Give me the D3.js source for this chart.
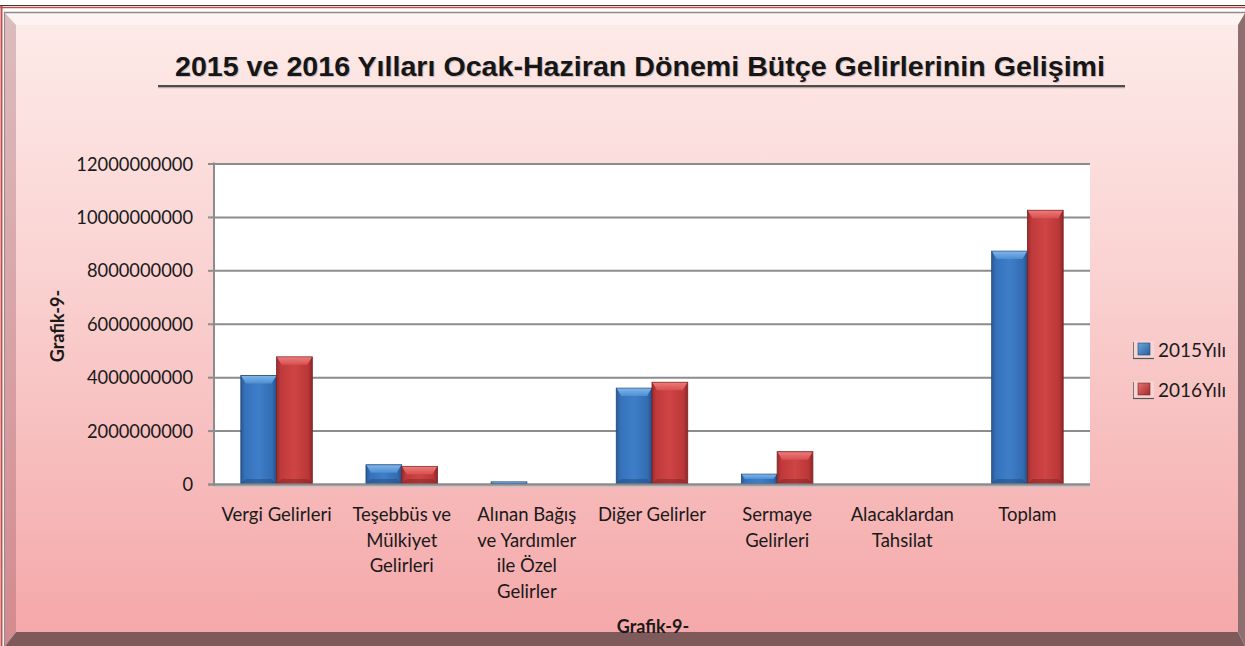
<!DOCTYPE html>
<html><head><meta charset="utf-8">
<script src="https://cdn.jsdelivr.net/npm/d3@7"></script>
<style>html,body{margin:0;padding:0;background:#fff;}svg{display:block;}</style>
</head><body>
<svg id="chart" width="1245" height="646"></svg>
<script>
// ---- data ----
const categories = [
  "Vergi Gelirleri",
  "Teşebbüs ve\nMülkiyet\nGelirleri",
  "Alınan Bağış\nve Yardımler\nile Özel\nGelirler",
  "Diğer Gelirler",
  "Sermaye\nGelirleri",
  "Alacaklardan\nTahsilat",
  "Toplam"
];
const seriesNames = ["2015Yılı", "2016Yılı"];
const values2015 = [4060000000, 720000000, 80000000, 3590000000, 370000000, 5000000, 8720000000];
const values2016 = [4760000000, 660000000, 10000000, 3810000000, 1210000000, 5000000, 10250000000];
const yTicks = [0, 2000000000, 4000000000, 6000000000, 8000000000, 10000000000, 12000000000];
const titleText = "2015 ve 2016 Yılları Ocak-Haziran Dönemi Bütçe Gelirlerinin Gelişimi";
const axisTitle = "Grafik-9-";

const W = 1245, H = 646;
const svg = d3.select("#chart");
const defs = svg.append("defs");

// gradients
function lin(id, x1, y1, x2, y2, stops) {
  const g = defs.append("linearGradient").attr("id", id)
    .attr("x1", x1).attr("y1", y1).attr("x2", x2).attr("y2", y2);
  stops.forEach(s => g.append("stop").attr("offset", s[0]).attr("stop-color", s[1]));
}
lin("bgFace", 0, 0, 0, 1, [[0, "#fdeae8"], [0.35, "#fad6d5"], [1, "#f5a8a9"]]);
lin("bevL", 0, 0, 0, 1, [[0, "#dcbcbe"], [1, "#d38a8e"]]);
lin("blueBody", 0, 0, 1, 0, [[0, "#295a96"], [0.12, "#3672bb"], [0.5, "#3e7ec8"], [0.88, "#336cb2"], [1, "#244f86"]]);
lin("redBody", 0, 0, 1, 0, [[0, "#9c2b2d"], [0.12, "#c03a3b"], [0.5, "#cf4445"], [0.88, "#bb3738"], [1, "#8e2628"]]);
lin("blueTop", 0, 0, 0, 1, [[0, "#7db5e8"], [1, "#4d8dd2"]]);
lin("redTop", 0, 0, 0, 1, [[0, "#ec7a78"], [1, "#d85051"]]);
lin("blueLeg", 0, 0, 1, 1, [[0, "#6aa6e0"], [1, "#2a5e9c"]]);
lin("redLeg", 0, 0, 1, 1, [[0, "#e87270"], [1, "#9e2c2e"]]);

// ---- frame ----
svg.append("rect").attr("x", 0).attr("y", 0).attr("width", W).attr("height", H).attr("fill", "#ffffff");
svg.append("rect").attr("x", 16).attr("y", 25).attr("width", 1222).attr("height", 607).attr("fill", "url(#bgFace)");
svg.append("polygon").attr("points", "5,13 1245,13 1238,25 16,25").attr("fill", "#fdf4f2");
svg.append("polygon").attr("points", "5,13 16,25 16,632 5,646").attr("fill", "url(#bevL)");
svg.append("polygon").attr("points", "1245,13 1245,646 1238,632 1238,25").attr("fill", "#8f6e70");
svg.append("polygon").attr("points", "5,646 16,632 1238,632 1245,646").attr("fill", "#7e5a5b");
svg.append("line").attr("x1", 0).attr("x2", W).attr("y1", 5.5).attr("y2", 5.5).attr("stroke", "#3a3a3a").attr("stroke-width", 1.2);
svg.append("line").attr("x1", 0).attr("x2", W).attr("y1", 7.5).attr("y2", 7.5).attr("stroke", "#c0504d").attr("stroke-width", 1.6);
svg.append("line").attr("x1", 1.5).attr("x2", 1.5).attr("y1", 6).attr("y2", H).attr("stroke", "#c0504d").attr("stroke-width", 2);
svg.append("line").attr("x1", 4).attr("x2", W).attr("y1", 12.5).attr("y2", 12.5).attr("stroke", "#8a8a8a").attr("stroke-width", 1.5);
svg.append("line").attr("x1", 4.5).attr("x2", 4.5).attr("y1", 12).attr("y2", H).attr("stroke", "#9a8a8b").attr("stroke-width", 1.2);

// ---- title ----
const tg = svg.append("g");
tg.append("text").attr("x", 641).attr("y", 77).attr("text-anchor", "middle")
  .attr("font-family", "'Liberation Sans', Arial, sans-serif").attr("font-weight", "bold")
  .attr("font-size", 27).attr("fill", "#9a8c8c").attr("opacity", 0.45)
  .attr("textLength", 930).attr("lengthAdjust", "spacingAndGlyphs").text(titleText);
tg.append("text").attr("x", 640).attr("y", 76).attr("text-anchor", "middle")
  .attr("font-family", "'Liberation Sans', Arial, sans-serif").attr("font-weight", "bold")
  .attr("font-size", 27).attr("fill", "#161616")
  .attr("textLength", 930).attr("lengthAdjust", "spacingAndGlyphs").text(titleText);
svg.append("line").attr("x1", 158).attr("x2", 1125).attr("y1", 87.5).attr("y2", 87.5).attr("stroke", "#b9a9a9").attr("stroke-width", 1.5);
svg.append("line").attr("x1", 158).attr("x2", 1125).attr("y1", 86).attr("y2", 86).attr("stroke", "#1a1a1a").attr("stroke-width", 1.5);

// ---- plot ----
const pl = 214, pr = 1090, pt = 163.5, pb = 484;
const y = d3.scaleLinear().domain([0, 12000000000]).range([pb, pt]);
const x0 = d3.scaleBand().domain(categories).range([pl, pr]).paddingInner(0).paddingOuter(0);
const x1 = d3.scaleBand().domain(seriesNames).range([0, x0.bandwidth()]).paddingInner(0).paddingOuter(0.75);

svg.append("rect").attr("x", pl).attr("y", pt).attr("width", pr - pl).attr("height", pb - pt).attr("fill", "#ffffff");

// grid + axis via d3.axisLeft
const yAxis = d3.axisLeft(y).tickValues(yTicks).tickSize(-(pr - pl)).tickPadding(0).tickFormat(d => d3.format("d")(d));
const ga = svg.append("g").attr("transform", `translate(${pl},0)`).call(yAxis);
ga.select(".domain").remove();
ga.selectAll(".tick line").attr("stroke", "#8c8c8c").attr("stroke-width", 2);
ga.selectAll(".tick").append("line").attr("x1", -6).attr("x2", 0).attr("stroke", "#8c8c8c").attr("stroke-width", 2);
ga.selectAll(".tick text").attr("x", -21).attr("dy", "0.36em")
  .attr("font-family", "Lato, 'Noto Sans', sans-serif").attr("font-size", 18.3).attr("fill", "#1a1a1a");
svg.append("line").attr("x1", pl).attr("x2", pl).attr("y1", pt - 1).attr("y2", pb + 2).attr("stroke", "#8c8c8c").attr("stroke-width", 2);
svg.append("line").attr("x1", pl).attr("x2", pr).attr("y1", pb + 2.5).attr("y2", pb + 2.5).attr("stroke", "#c9c2c2").attr("stroke-width", 1.5);

// bars
const seriesData = [values2015, values2016];
const bodyFill = ["url(#blueBody)", "url(#redBody)"];
const topFill = ["url(#blueTop)", "url(#redTop)"];
const edge = ["#1f4676", "#7a2224"];
const rows = [];
categories.forEach((c, i) => seriesNames.forEach((s, j) => rows.push({c, s, j, v: seriesData[j][i]})));
const bars = svg.append("g").selectAll("g").data(rows).join("g");
bars.each(function(d) {
  const g = d3.select(this);
  const bx = x0(d.c) + x1(d.s), bw = x1.bandwidth();
  const by = y(d.v), bh = pb - by;
  if (bh < 0.5) return;
  g.append("rect").attr("x", bx).attr("y", by).attr("width", bw).attr("height", bh)
    .attr("fill", bodyFill[d.j]).attr("stroke", edge[d.j]).attr("stroke-width", 0.8);
  const th = Math.min(8, bh / 2), ins = Math.min(5, th * 0.7);
  g.append("polygon")
    .attr("points", `${bx + 0.5},${by + 0.5} ${bx + bw - 0.5},${by + 0.5} ${bx + bw - ins},${by + th} ${bx + ins},${by + th}`)
    .attr("fill", topFill[d.j]);
  if (bh > 14) {
    g.append("polygon")
      .attr("points", `${bx + 0.5},${pb - 0.5} ${bx + bw - 0.5},${pb - 0.5} ${bx + bw - ins},${pb - 5} ${bx + ins},${pb - 5}`)
      .attr("fill", edge[d.j]).attr("opacity", 0.45);
  }
});
// bottom axis line on top
svg.append("line").attr("x1", pl - 6).attr("x2", pr).attr("y1", pb + 0.5).attr("y2", pb + 0.5).attr("stroke", "#8c8c8c").attr("stroke-width", 2);

// category labels
const xl = svg.append("g");
categories.forEach(c => {
  const lines = c.split("\n");
  const t = xl.append("text").attr("text-anchor", "middle")
    .attr("font-family", "Lato, 'Noto Sans', sans-serif").attr("font-size", 18.5).attr("fill", "#1a1a1a");
  lines.forEach((ln, k) => t.append("tspan").attr("x", x0(c) + x0.bandwidth() / 2).attr("y", 521 + k * 25.5).text(ln));
});

// axis titles
svg.append("text").attr("transform", "translate(64,326) rotate(-90)").attr("text-anchor", "middle")
  .attr("font-family", "Lato, 'Noto Sans', sans-serif").attr("font-weight", "bold").attr("font-size", 18).attr("fill", "#1a1a1a")
  .text(axisTitle);
svg.append("text").attr("x", 653).attr("y", 633).attr("text-anchor", "middle")
  .attr("font-family", "Lato, 'Noto Sans', sans-serif").attr("font-weight", "bold").attr("font-size", 18).attr("fill", "#1a1a1a")
  .text(axisTitle);

// legend
const legFill = ["url(#blueLeg)", "url(#redLeg)"];
const lg = svg.append("g").selectAll("g").data(seriesNames).join("g")
  .attr("transform", (d, i) => `translate(1133,${342 + i * 40})`);
lg.append("rect").attr("x", 0).attr("y", -1).attr("width", 21).attr("height", 17).attr("fill", "#f7dede").attr("opacity", 0.6);
lg.append("line").attr("x1", 0.5).attr("x2", 0.5).attr("y1", 0).attr("y2", 16).attr("stroke", "#777").attr("stroke-width", 1);
lg.append("line").attr("x1", 0).attr("x2", 21).attr("y1", 16.5).attr("y2", 16.5).attr("stroke", "#555").attr("stroke-width", 1.2);
lg.append("rect").attr("x", 5).attr("y", 1).attr("width", 12).attr("height", 12)
  .attr("fill", (d, i) => legFill[i]).attr("stroke", (d, i) => edge[i]).attr("stroke-width", 0.6);
lg.append("text").attr("x", 25).attr("y", 15)
  .attr("font-family", "Lato, 'Noto Sans', sans-serif").attr("font-size", 19).attr("fill", "#1a1a1a")
  .text(d => d);
</script>
</body></html>
